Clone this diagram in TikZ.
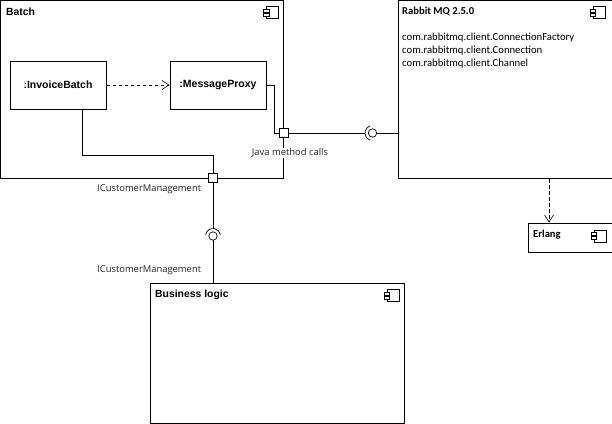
\documentclass[tikz,border=0pt]{standalone}
\usepackage{fontspec}
\setmainfont{Carlito}
\newfontfamily\arialf{Liberation Sans}
\newfontfamily\segoe{Open Sans}
\usetikzlibrary{arrows.meta,calc}
\tikzset{
  x=1pt,y=-1pt,
  line/.style={draw=black,line width=0.9pt},
  comp/.style={draw=black,line width=1pt,fill=white,anchor=north west,inner sep=0pt},
  inst/.style={draw=black,line width=1pt,fill=white,minimum width=96pt,minimum height=48pt,inner sep=0pt,font=\arialf\bfseries\fontsize{10.5}{12}\selectfont},
  port/.style={draw=black,line width=0.9pt,fill=white,minimum size=9pt,inner sep=0pt},
  lab/.style={font=\segoe\fontsize{9.4}{11}\selectfont,inner sep=1pt,text=black!85},
  title/.style={anchor=west,inner sep=0pt,font=\bfseries\fontsize{10.6}{12}\selectfont},
  atitle/.style={anchor=west,inner sep=0pt,font=\arialf\bfseries\fontsize{10.4}{12}\selectfont},
  open/.style={-{Straight Barb[length=7pt,width=9pt,line width=0.6pt]}},
  dep/.style={line,dash pattern=on 3.5pt off 2.5pt}
}
\newcommand{\compicon}[2]{%
  \draw[line width=0.6pt] (#1+3,#2-6) rectangle (#1+15,#2+6);
  \draw[line width=0.6pt,fill=white] (#1,#2-3.5) rectangle (#1+5.5,#2-0.5);
  \draw[line width=0.6pt,fill=white] (#1,#2+0.5) rectangle (#1+5.5,#2+3.5);
}
\begin{document}
\begin{tikzpicture}
\useasboundingbox (0,0) rectangle (612,423);
\fill[white] (0,0) rectangle (612,423);
% component boxes
\node[comp,minimum width=283pt,minimum height=178pt] (batch) at (0.3,0.3) {};
\node[comp,minimum width=215pt,minimum height=178pt] (rabbit) at (397.5,0.3) {};
\node[comp,minimum width=84pt,minimum height=29pt] (erlang) at (527.5,222.5) {};
\node[comp,minimum width=254pt,minimum height=139.5pt] (logic) at (150,283) {};
% titles and icons
\node[atitle] (batcht) at (6,11.5) {Batch};
\compicon{263.5}{12.5}
\node[title] (rabbitt) at (402,11.5) {Rabbit MQ 2.5.0};
\compicon{590}{12.5}
\node[title] (erlangt) at (533,235) {Erlang};
\compicon{591}{236}
\node[atitle] (logict) at (155,294.5) {Business logic};
\compicon{384}{295.5}
\node[anchor=north west,inner sep=0pt,align=left,font=\fontsize{10.7}{13}\selectfont] (classes) at (402,33) {com.rabbitmq.client.ConnectionFactory\\com.rabbitmq.client.Connection\\com.rabbitmq.client.Channel};
% instances
\node[inst] (invoice) at (58,85) {:InvoiceBatch};
\node[inst] (proxy) at (218,85) {:MessageProxy};
% sockets
\coordinate (s1) at (372.5,133);
\coordinate (s2) at (213,236);
\coordinate (a1) at ($(s1)+(-7.5,0)$);
\coordinate (a2) at ($(s2)+(0,-7.5)$);
\coordinate (b1) at ($(s1)+(4.2,0)$);
\coordinate (b2) at ($(s2)+(0,4.2)$);
\draw[line width=0.7pt] (s1) circle (4.2);
\draw[line width=0.7pt] ($(s1)+(110:7.5)$) arc[start angle=110,end angle=250,radius=7.5];
\draw[line width=0.7pt] (s2) circle (4.2);
\draw[line width=0.7pt] ($(s2)+(190:7.5)$) arc[start angle=190,end angle=350,radius=7.5];
% labels
\node[lab,fill=white,inner sep=0.5pt] (java) at (290,153) {Java method calls};
\node[lab,anchor=west] (ic1) at (96,189.5) {ICustomerManagement};
\node[lab,anchor=west] (ic2) at (96,270.5) {ICustomerManagement};
% ports
\node[port] (p1) at (284,133) {};
\node[port] (p2) at (213,178) {};
% connectors
\draw[dep,open] (invoice) -- (proxy);
\path (rabbit.south -| erlang.north) ++(-21,0) coordinate (d1);
\draw[dep,open] (d1) -- (d1 |- erlang.north);
\draw[line] (proxy.east) -- ++(8,0) |- (p1.west);
\draw[line] (82,109) |- (213,155) -- (p2.north);
\draw[line] (p1.east) -- (a1);
\draw[line] (b1) -- (b1 -| rabbit.west);
\draw[line] (p2.south) -- (a2);
\draw[line] (b2) -- (b2 |- logic.north);
\end{tikzpicture}
\end{document}
